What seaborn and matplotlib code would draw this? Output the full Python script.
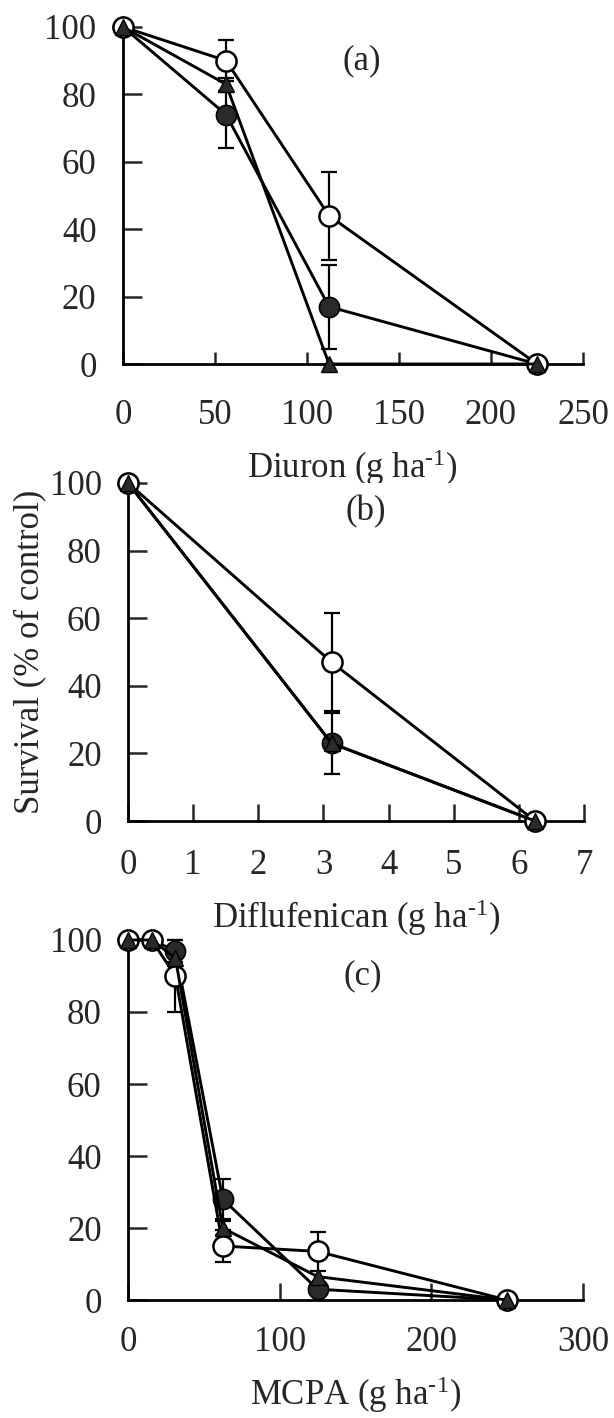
import numpy as np
import pandas as pd
import seaborn as sns
import matplotlib
matplotlib.use("Agg")
import matplotlib.pyplot as plt

# Diuron (a)
diuron_dose = [0, 56, 112, 225]
diuron_open = [100, 90, 44, 0]
diuron_open_err = [0, 6, 13, 0]
diuron_filled = [100, 74, 17, 0]
diuron_filled_err = [0, 10, 12.5, 0]
diuron_tri = [100, 83, 0, 0]
diuron_tri_err = [0, 2, 0, 0]

# Diflufenican (b)
dfc_dose = [0, 3.125, 6.25]
dfc_open = [100, 47, 0]
dfc_open_err = [0, 14.5, 0]
dfc_filled = [100, 23, 0]
dfc_filled_err = [0, 9, 0]
dfc_tri = [100, 23, 0]
dfc_tri_err = [0, 0, 0]

# MCPA (c)
mcpa_dose = [0, 15.6, 31.25, 62.5, 125, 250]
mcpa_open = [100, 100, 90, 15, 13.5, 0]
mcpa_open_err = [0, 0, 10, 4.5, 5.5, 0]
mcpa_filled = [100, 100, 97, 28, 3, 0]
mcpa_filled_err = [0, 0, 3, 5.5, 0, 0]
mcpa_tri = [100, 100, 95, 20, 6.5, 0]
mcpa_tri_err = [0, 0, 0, 2, 0, 0]

sns.set_style("ticks")
plt.rcParams['font.family'] = ['Liberation Serif', 'DejaVu Serif']
plt.rcParams['mathtext.default'] = 'regular'
plt.rcParams['font.size'] = 25

dark = '#2a2a2a'
unit = ' (g ha$^{\u2010' + '1}$)'


def draw_panel(ax, dose, series, xmax, xticks, xtick_len, xpad, tag, tag_xy, xlabel):
    # series: list of (values, errors, style)
    for vals, errs, style in series:
        df = pd.DataFrame({'dose': dose, 'surv': vals})
        e = np.array(errs, dtype=float)
        m = e > 0
        if m.any():
            ax.errorbar(np.array(dose)[m], np.array(vals)[m], yerr=e[m], fmt='none',
                        ecolor='black', elinewidth=1.6, capsize=5.5, capthick=1.6,
                        clip_on=False, zorder=2)
        sns.lineplot(data=df, x='dose', y='surv', ax=ax, color='black', linewidth=2.1,
                     clip_on=False, zorder=3, **style)
    ax.set_xlim(0, xmax)
    ax.set_ylim(0, 100)
    ax.set_xticks(xticks)
    ax.set_yticks([0, 20, 40, 60, 80, 100])
    ax.tick_params(axis='y', direction='in', length=14, width=1.8, pad=19, labelsize=25)
    ax.tick_params(axis='x', direction='in', length=xtick_len, width=1.8, pad=xpad, labelsize=25)
    for s in ['top', 'right']:
        ax.spines[s].set_visible(False)
    for s in ['left', 'bottom']:
        ax.spines[s].set_linewidth(2)
        ax.spines[s].set_color('black')
    ax.text(tag_xy[0], tag_xy[1], tag, ha='center', va='center', fontsize=25)
    ax.set_xlabel(xlabel, fontsize=25, labelpad=11)
    ax.set_ylabel('')


filled_style = dict(marker='o', markersize=14.5, markerfacecolor=dark, markeredgecolor='black', markeredgewidth=1.2)
open_style = dict(marker='o', markersize=14.5, markerfacecolor='white', markeredgecolor='black', markeredgewidth=1.8)
tri_style = dict(marker='^', markersize=12, markerfacecolor=dark, markeredgecolor='black', markeredgewidth=1.0)

fig = plt.figure(figsize=(6.14, 14.18), dpi=100)
ax_a = fig.add_axes([0.2003, 0.7433, 0.7492, 0.2377])
ax_b = fig.add_axes([0.2085, 0.4210, 0.7427, 0.2384])
ax_c = fig.add_axes([0.2085, 0.0832, 0.7410, 0.2539])

draw_panel(ax_a, diuron_dose,
           [(diuron_filled, diuron_filled_err, filled_style),
            (diuron_open, diuron_open_err, open_style),
            (diuron_tri, diuron_tri_err, tri_style)],
           250, [0, 50, 100, 150, 200, 250], 9, 25, '(a)', (130, 90), 'Diuron' + unit)

draw_panel(ax_b, dfc_dose,
           [(dfc_filled, dfc_filled_err, filled_style),
            (dfc_open, dfc_open_err, open_style),
            (dfc_tri, dfc_tri_err, tri_style)],
           7, [0, 1, 2, 3, 4, 5, 6, 7], 12, 20, '(b)', (3.65, 91.5), 'Diflufenican' + unit)

draw_panel(ax_c, mcpa_dose,
           [(mcpa_filled, mcpa_filled_err, filled_style),
            (mcpa_open, mcpa_open_err, open_style),
            (mcpa_tri, mcpa_tri_err, tri_style)],
           300, [0, 100, 200, 300], 12, 19, '(c)', (155, 90), 'MCPA' + unit)

ax_b.set_ylabel('Survival (% of control)', fontsize=25, labelpad=2)

fig.savefig('out.png', dpi=100, facecolor='white')
